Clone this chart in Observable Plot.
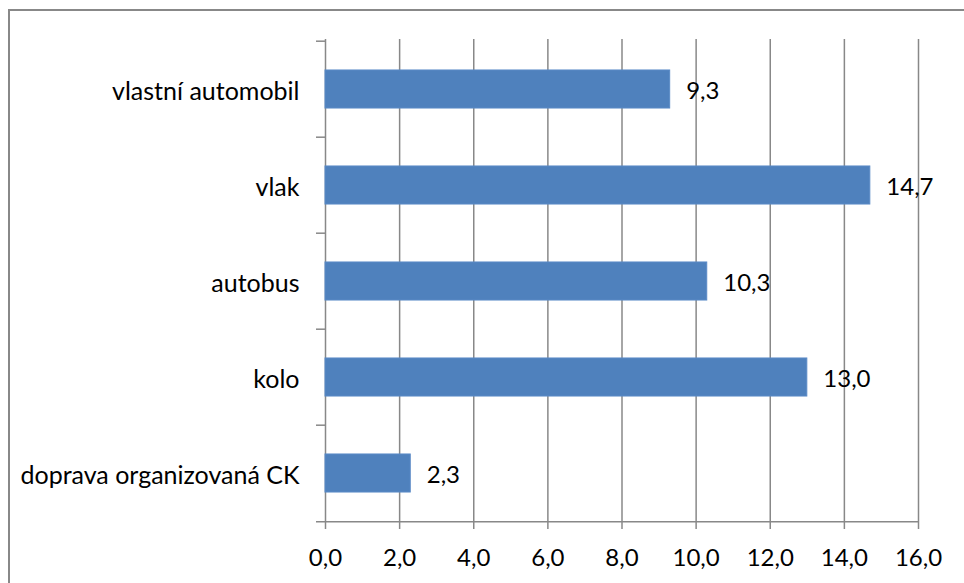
<!DOCTYPE html>
<html>
<head>
<meta charset="utf-8">
<script src="https://cdn.jsdelivr.net/npm/d3@7"></script>
<script src="https://cdn.jsdelivr.net/npm/@observablehq/plot@0.6"></script>
<style>
  html, body { margin: 0; padding: 0; background: #fff; overflow: hidden; width: 964px; height: 583px; }
  #frame { position: absolute; left: 8px; top: 9px; width: 1000px; height: 700px; border: 2px solid #888; box-sizing: border-box; }
  #chart { position: absolute; left: 0; top: 0; }
  svg { font-family: Lato, "Open Sans", sans-serif; }
</style>
</head>
<body>
<div id="frame"></div>
<div id="chart"></div>
<script>
const categories = ["vlastní automobil", "vlak", "autobus", "kolo", "doprava organizovaná CK"];
const values = [9.3, 14.7, 10.3, 13.0, 2.3];
const xTicks = [0, 2, 4, 6, 8, 10, 12, 14, 16];

const data = categories.map((c, i) => ({category: c, value: values[i]}));

const width = 964, height = 583;
const marginLeft = 325, marginRight = 46, marginTop = 39, marginBottom = 61;
const bw = (height - marginTop - marginBottom) / categories.length;
const fmt = d => d.toFixed(1).replace(".", ",");
const gray = "#888888";

const chart = Plot.plot({
  width, height, marginLeft, marginRight, marginTop, marginBottom,
  style: {fontFamily: "Lato, 'Open Sans', sans-serif", fontSize: "24px", color: "#000", background: "transparent"},
  x: {domain: [0, 16], axis: null},
  y: {domain: categories, padding: 0, axis: null},
  marks: [
    // vertical gridlines
    Plot.ruleX(xTicks, {stroke: gray, strokeWidth: 1.5, strokeOpacity: 1}),
    // left axis category-boundary ticks
    Plot.ruleY(categories, {y: d => d, x1: 0, x2: 0, dy: -bw / 2, insetLeft: -9, stroke: gray, strokeWidth: 1.5}),
    // bottom axis line (with its left tick)
    Plot.ruleY([categories[categories.length - 1]], {y: d => d, dy: bw / 2, insetLeft: -9, stroke: gray, strokeWidth: 1.5}),
    // bars
    Plot.barX(data, {x: "value", y: "category", fill: "#4F81BD", stroke: "#5A8AC6", strokeWidth: 1, insetTop: bw * 0.3, insetBottom: bw * 0.3}),
    // value labels
    Plot.text(data, {x: "value", y: "category", text: d => fmt(d.value), textAnchor: "start", dx: 16, dy: 2, fontSize: 24, fill: "#000"}),
    // category axis labels
    Plot.axisY({tickSize: 0, tickPadding: 26, fontSize: 25, label: null, dy: 2}),
    // x axis
    Plot.axisX({ticks: xTicks, tickFormat: fmt, tickSize: 7, tickPadding: 19, fontSize: 24, label: null, stroke: gray, strokeWidth: 1.5})
  ]
});
document.getElementById("chart").appendChild(chart);
</script>
</body>
</html>
